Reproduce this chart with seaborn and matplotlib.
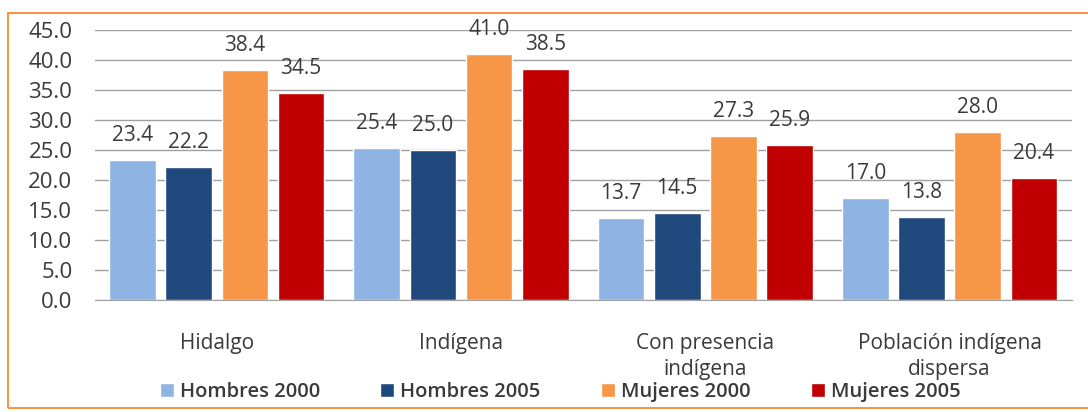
import numpy as np
import pandas as pd
import matplotlib.pyplot as plt
import matplotlib.patches as mpatches
import matplotlib.ticker as plticker
import seaborn as sns

categories = ['Hidalgo', 'Indígena', 'Con presencia\nindígena', 'Población indígena\ndispersa']
series = ['Hombres 2000', 'Hombres 2005', 'Mujeres 2000', 'Mujeres 2005']
hombres_2000 = [23.4, 25.4, 13.7, 17.0]
hombres_2005 = [22.2, 25.0, 14.5, 13.8]
mujeres_2000 = [38.4, 41.0, 27.3, 28.0]
mujeres_2005 = [34.5, 38.5, 25.9, 20.4]
colors = ['#8DB4E2', '#1F497D', '#F79646', '#C00000']

df = pd.DataFrame({
    'categoria': categories * 4,
    'serie': np.repeat(series, len(categories)),
    'valor': hombres_2000 + hombres_2005 + mujeres_2000 + mujeres_2005,
})

sns.set_style('white')
plt.rcParams['font.family'] = ['Open Sans', 'DejaVu Sans']
txt = '#3a3a3a'

fig = plt.figure(figsize=(10.88, 4.12), dpi=100)
ax = fig.add_axes([0.087, 0.272, 0.898, 0.655])

sns.barplot(data=df, x='categoria', y='valor', hue='serie', order=categories,
            hue_order=series, palette=colors, width=0.92, gap=0.17,
            saturation=1, ax=ax, legend=True)

for cont in ax.containers:
    ax.bar_label(cont, fmt='%.1f', padding=10, fontsize=15, color=txt)

ax.set_ylim(0, 45)
ax.yaxis.set_major_locator(plticker.MultipleLocator(5))
ax.yaxis.set_major_formatter(plticker.FormatStrFormatter('%.1f'))
ax.grid(axis='y', color='#a0a0a0', linewidth=1)
ax.set_axisbelow(True)
for s in ['top', 'right', 'left']:
    ax.spines[s].set_visible(False)
ax.spines['bottom'].set_color('#a0a0a0')
ax.set_xlabel(None)
ax.set_ylabel(None)
ax.tick_params(axis='y', labelsize=16, labelcolor=txt, length=0, pad=16)
ax.tick_params(axis='x', labelsize=15, labelcolor=txt, length=0, pad=24)
for lab in ax.get_xticklabels():
    lab.set_linespacing(1.3)
ax.set_xlim(-0.5, 3.5)

handles, labels = ax.get_legend_handles_labels()
ax.legend_.remove()
fig.legend(handles, labels, loc='lower center', bbox_to_anchor=(0.515, -0.02), ncol=4,
           frameon=False, prop={'size': 14.5, 'weight': 'semibold'}, handlelength=0.7,
           handleheight=0.7, handletextpad=0.3, columnspacing=3.0, labelcolor=txt)

border = mpatches.Rectangle((8 / 1088, 4 / 412), 1.1, 395 / 412, transform=fig.transFigure,
                            fill=False, edgecolor='#F79646', linewidth=1.5, clip_on=False)
fig.patches.append(border)

fig.savefig('out.png', dpi=100)
